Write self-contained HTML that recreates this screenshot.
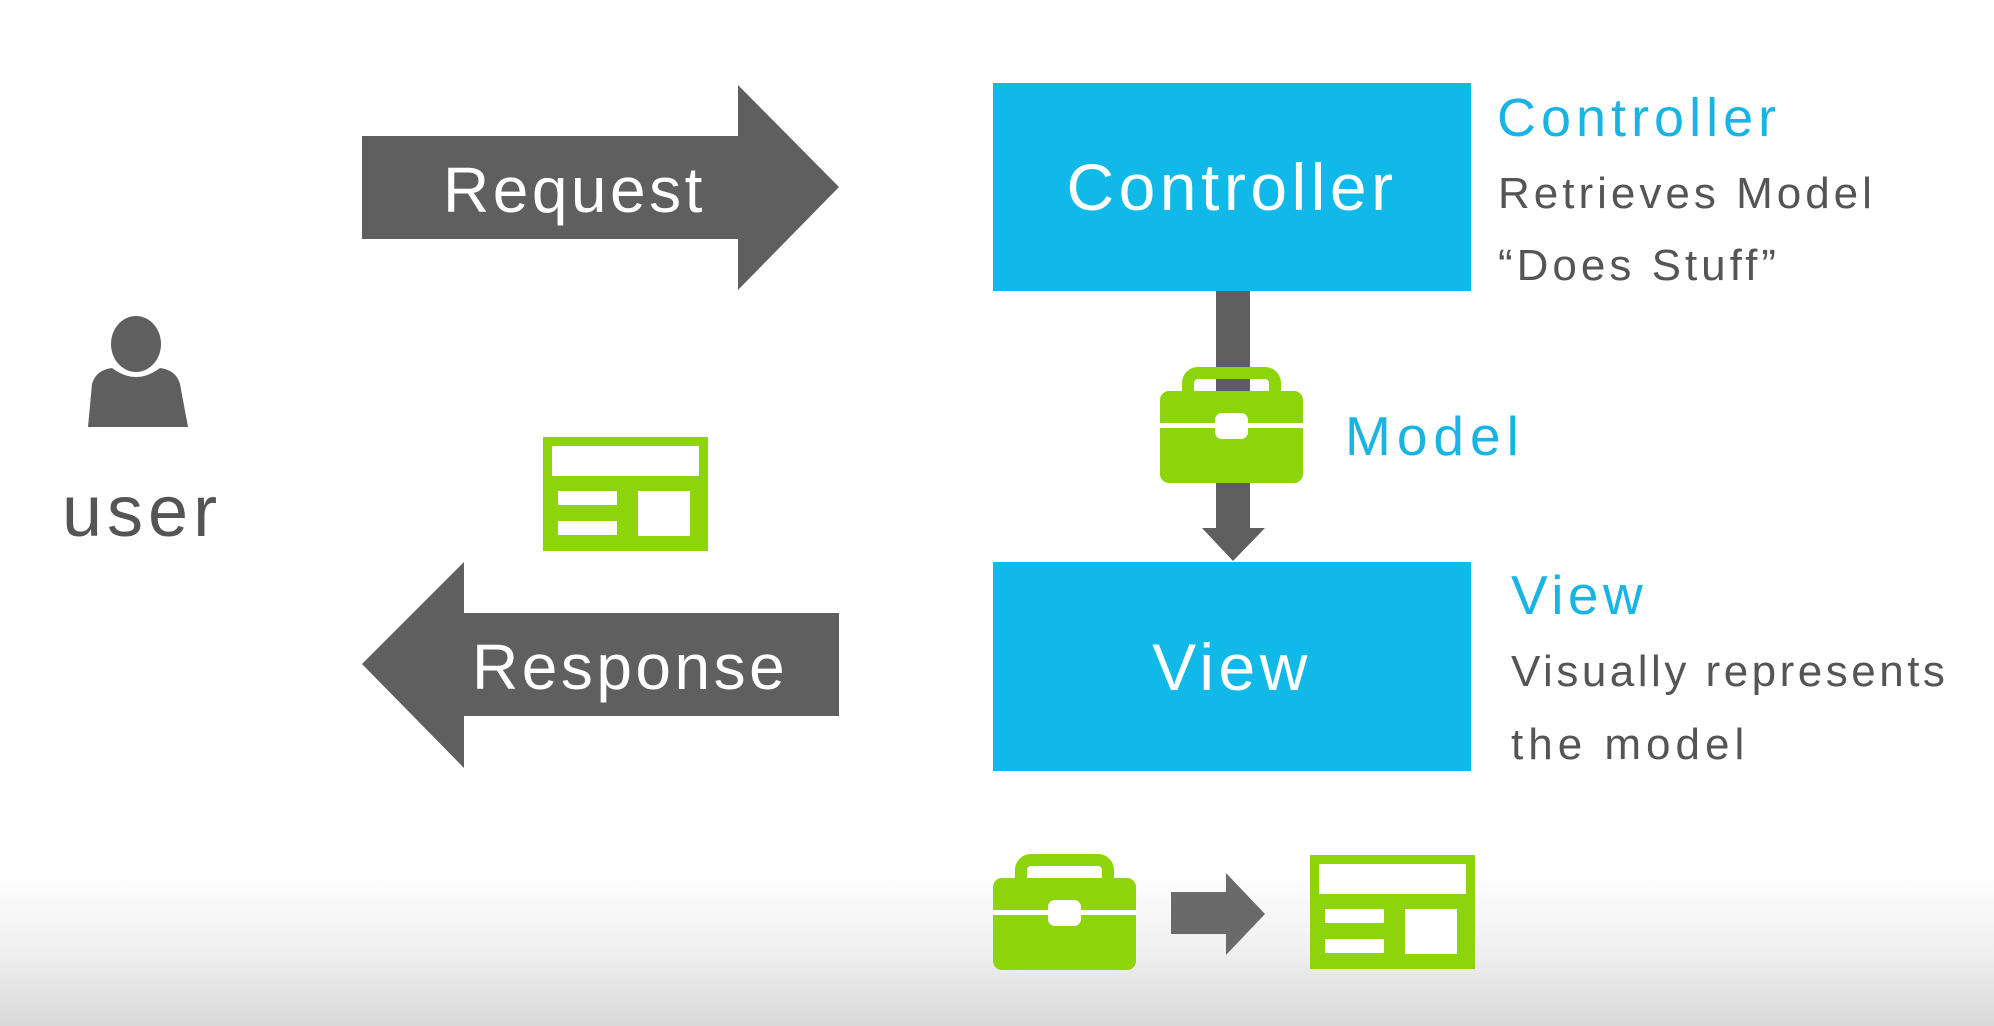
<!DOCTYPE html>
<html><head><meta charset="utf-8"><style>
html,body{margin:0;padding:0}
body{width:1994px;height:1026px;overflow:hidden;background:linear-gradient(to bottom,#fff 0,#fff 870px,#f0f0f0 950px,#d9d9d9 1026px);font-family:"Liberation Sans","DejaVu Sans",sans-serif;position:relative}
.t{position:absolute;white-space:nowrap;line-height:1}
</style></head><body>
<svg width="1994" height="1026" style="position:absolute;left:0;top:0">
<defs>
<g id="brief">
<rect x="28" y="0" width="87" height="28" rx="10" fill="none" stroke="#8dd40a" stroke-width="12"/>
<rect x="0" y="18" width="143" height="92" rx="9" fill="#8dd40a"/>
<rect x="0" y="50" width="143" height="5" fill="#fff"/>
<rect x="55" y="40" width="33" height="26" rx="7" fill="#fff"/>
</g>
<g id="win">
<rect x="0" y="0" width="165" height="114" fill="#8dd40a"/>
<rect x="9" y="9" width="147" height="30" fill="#fff"/>
<rect x="15" y="54" width="59" height="14" fill="#fff"/>
<rect x="15" y="84" width="59" height="14" fill="#fff"/>
<rect x="95" y="54" width="52" height="45" fill="#fff"/>
</g>
</defs>
<polygon points="362,136 738,136 738,85 839,187 738,290 738,239 362,239" fill="#5f5f5f"/>
<polygon points="839,613 464,613 464,562 362,664 464,768 464,716 839,716" fill="#5f5f5f"/>
<rect x="993" y="83" width="478" height="208" fill="#10b9e8"/>
<rect x="993" y="562" width="478" height="209" fill="#10b9e8"/>
<rect x="1216" y="291" width="34" height="237" fill="#5f5f5f"/>
<polygon points="1202,528 1265,528 1233,561" fill="#5f5f5f"/>
<g transform="translate(1160,373)"><use href="#brief"/></g>
<ellipse cx="136" cy="344" rx="25" ry="28" fill="#5f5f5f"/>
<path d="M88,427 L92,384 Q96,370 112,368 Q136,386 160,368 Q176,370 180,384 L188,427 Z" fill="#5f5f5f"/>
<g transform="translate(543,437)"><use href="#win"/></g>
<g transform="translate(993,860)"><use href="#brief"/></g>
<polygon points="1171,892 1226,892 1226,873 1265,914 1226,955 1226,934 1171,934" fill="#6a6a6a"/>
<g transform="translate(1310,855)"><use href="#win"/></g>
</svg>
<div class="t" style="left:443px;top:158px;font-size:64px;color:#fff;letter-spacing:3.5px">Request</div>
<div class="t" style="left:472px;top:635px;font-size:64px;color:#fff;letter-spacing:3.5px">Response</div>
<div class="t" style="left:993px;width:478px;text-align:center;top:154px;font-size:66px;color:#fff;letter-spacing:4.5px">Controller</div>
<div class="t" style="left:993px;width:478px;text-align:center;top:634px;font-size:66px;color:#fff;letter-spacing:4.5px">View</div>
<div class="t" style="left:1497px;top:91px;font-size:54px;color:#1ab4e4;letter-spacing:5px">Controller</div>
<div class="t" style="left:1498px;top:172px;font-size:44px;color:#555;letter-spacing:4px">Retrieves Model</div>
<div class="t" style="left:1498px;top:244px;font-size:44px;color:#555;letter-spacing:4px">“Does Stuff”</div>
<div class="t" style="left:1345px;top:409px;font-size:55px;color:#1ab4e4;letter-spacing:6px">Model</div>
<div class="t" style="left:1511px;top:568px;font-size:55px;color:#1ab4e4;letter-spacing:4.5px">View</div>
<div class="t" style="left:1511px;top:650px;font-size:44px;color:#555;letter-spacing:3.5px">Visually represents</div>
<div class="t" style="left:1511px;top:723px;font-size:44px;color:#555;letter-spacing:5px">the model</div>
<div class="t" style="left:62px;top:476px;font-size:72px;color:#555;letter-spacing:5px">user</div>
</body></html>
